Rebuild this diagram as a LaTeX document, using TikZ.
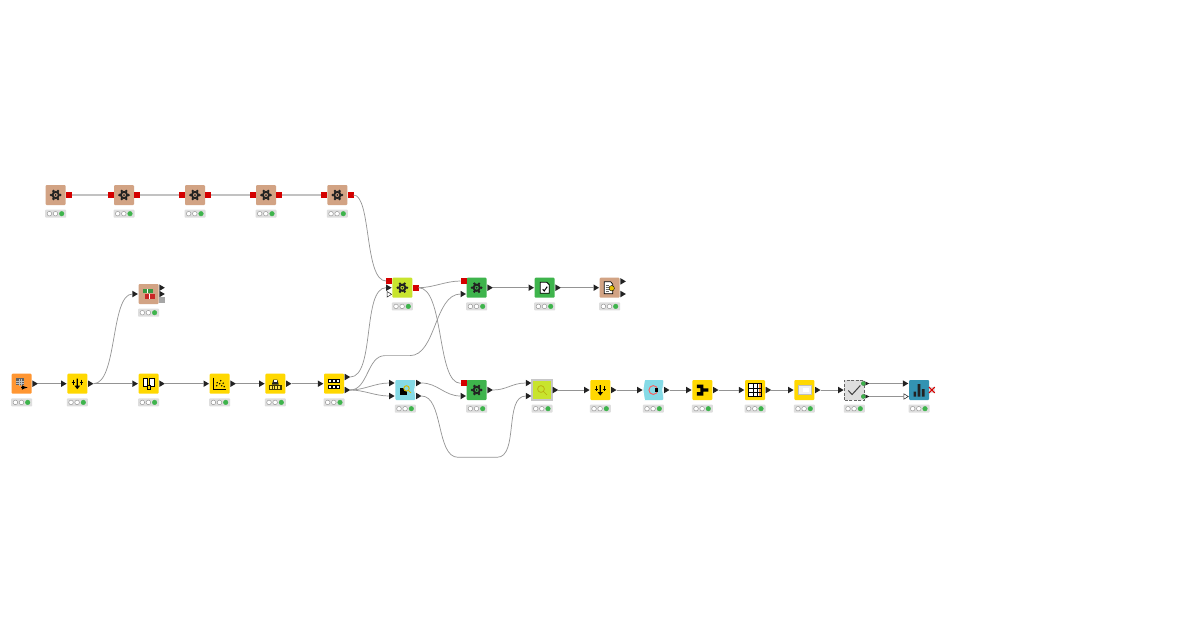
\documentclass[tikz,border=0pt]{standalone}
\usetikzlibrary{shapes.geometric}
\definecolor{mybrown}{HTML}{D2A384}
\definecolor{myyellow}{HTML}{FFD800}
\definecolor{myorange}{HTML}{FF9632}
\definecolor{mygreen}{HTML}{3EB44C}
\definecolor{mylime}{HTML}{C8E42E}
\definecolor{myblue}{HTML}{85DAE6}
\definecolor{myteal}{HTML}{3393B2}
\definecolor{myred}{HTML}{D40000}
\definecolor{myink}{HTML}{222222}
\begin{document}
\begin{tikzpicture}[%
        x=1pt, y=-1pt,
        mynode/.style={shape=rectangle, rounded corners=1pt, inner sep=0, outer sep=0, minimum size=20pt},
        mystatus/.style={shape=rectangle, rounded corners=.8pt, fill=black!13, inner sep=0, minimum width=21pt, minimum height=8pt},
        mylamp/.style={shape=circle, inner sep=0, minimum size=4.6pt, draw=black!45, line width=.4pt, fill=white},
        myport/.style={shape=isosceles triangle, isosceles triangle stretches, shape border rotate=0, inner sep=0, outer sep=0,
            minimum width=6.5pt, minimum height=5.5pt, fill=myink, anchor=apex},
        myopen/.style={myport, fill=white, draw=myink, line width=.5pt, minimum width=5.5pt, minimum height=4.5pt},
        mysquare/.style={shape=rectangle, inner sep=0, outer sep=0, minimum size=6pt, fill=myred},
        mywire/.style={draw=black!42, line width=.7pt},
        mymodel/.style={draw=black!24, line width=1.2pt},
        mygear/.pic={
            \draw [line width=1.9pt, myink] (0,0) circle (3.1);
            \foreach \a in {0,60,...,300}
                \fill [myink] (\a:4.6) circle (1.4);
            \fill [myink] (0,0) circle (1);
        },
        myfunnel/.pic={
            \fill [black] (-.6,-5) rectangle (.6,2) (-2.8,2) -- (2.8,2) -- (0,5.5) -- cycle;
            \foreach \s in {-4,4}
                \draw [black, line width=.7pt] (\s,-4) -- (\s,1) (\s-1.6,-1) -- (\s+1.6,-1);
        }
    ]
    \useasboundingbox [fill=white] (0,0) rectangle (1200,630);
    % nodes with their status bars
    \foreach \nm/\nx/\ny/\col in {%
            gearA/55.7/195/mybrown, gearB/124/195/mybrown, gearC/195/195/mybrown,
            gearD/266/195/mybrown, gearE/337.3/195/mybrown,
            reader/21.7/383.7/myorange, filterA/77.3/383.7/myyellow, joiner/148.6/383.7/myyellow,
            scatter/219.7/383.7/myyellow, binner/275.3/383.7/myyellow, partition/334/383.7/myyellow,
            grouper/148.6/294/mybrown, learner/402.3/287.7/mylime, predictA/476.7/287.7/mygreen,
            scorer/544.7/287.7/mygreen, docs/609.7/287.7/mybrown,
            blueA/405.3/390/myblue, predictB/476.7/390/mygreen, search/542/390/mylime,
            filterB/600.3/390/myyellow, blueB/653.3/390/myblue, pivot/702.3/390/myyellow,
            viewer/755/390/myyellow, card/804.3/390/myyellow, checker/854.3/390/black!13,
            chart/919/390/myteal} {
        \node [mynode, fill=\col] (\nm) at (\nx,\ny) {};
        \node [mystatus] (\nm bar) at (\nx,\ny+18.7) {};
        \node [mylamp] (\nm off) at (\nx-6.3,\ny+18.7) {};
        \node [mylamp] (\nm idle) at (\nx-.2,\ny+18.7) {};
        \node [mylamp, draw=mygreen, fill=mygreen] (\nm lamp) at (\nx+6,\ny+18.7) {};
    }
    % notched sides, frames
    \fill [white] (415.6,381) -- (414.2,390) -- (415.6,399) -- cycle;
    \fill [white] (643,379.7) -- (645,379.7) -- (643.2,390) -- (645,400.3) -- (643,400.3) -- cycle;
    \fill [white] (663.6,381) -- (662.2,390) -- (663.6,399) -- cycle;
    \draw [black!22, line width=1.3pt] (search.south west) rectangle (search.north east);
    \draw [black!60, line width=.8pt, dash pattern=on 3pt off 1.5pt] (checker.south west) rectangle (checker.north east);
    % triangle ports on the right
    \foreach \pn/\nm/\dy in {%
            readerO/reader/0, filterAO/filterA/0, joinerO/joiner/0, scatterO/scatter/0, binnerO/binner/0,
            partitionT/partition/6.7, partitionL/partition/-6.3, grouperT/grouper/6.3, grouperM/grouper/0,
            predictAO/predictA/0, scorerO/scorer/0, docsT/docs/6.3, docsL/docs/-6.3,
            blueAT/blueA/7, blueAL/blueA/-6, predictBO/predictB/0, searchO/search/0, filterBO/filterB/0,
            blueBO/blueB/0, pivotO/pivot/0, viewerO/viewer/0, cardO/card/0}
        \node [myport] (\pn) at ([xshift=6.2pt,yshift=\dy pt]\nm.east) {};
    \node [myport, minimum width=4pt, minimum height=4pt] (checkerT) at ([xshift=5pt,yshift=6.5pt]checker.east) {};
    \node [myport, minimum width=4pt, minimum height=4pt] (checkerL) at ([xshift=5pt,yshift=-6.5pt]checker.east) {};
    % triangle ports on the left
    \foreach \pn/\nm/\dy in {%
            filterAI/filterA/0, joinerI/joiner/0, scatterI/scatter/0, binnerI/binner/0, partitionI/partition/0,
            grouperI/grouper/0, learnerI/learner/0, predictAI/predictA/-6.3, scorerI/scorer/0, docsI/docs/0,
            blueAT2/blueA/7, blueAL2/blueA/-6, predictBI/predictB/-6, searchT/search/7, searchL/search/-6,
            filterBI/filterB/0, blueBI/blueB/0, pivotI/pivot/0, viewerI/viewer/0, cardI/card/0,
            checkerI/checker/0, chartI/chart/6.5}
        \node [myport] (\pn) at ([xshift=-.7pt,yshift=\dy pt]\nm.west) {};
    \node [myopen] (learnerV) at ([xshift=-.7pt,yshift=-6.6pt]learner.west) {};
    \node [myopen] (chartV) at ([xshift=-.7pt,yshift=-6.5pt]chart.west) {};
    % model ports
    \foreach \pn/\nm in {gearAO/gearA, gearBO/gearB, gearCO/gearC, gearDO/gearD, gearEO/gearE, learnerO/learner}
        \node [mysquare, anchor=west] (\pn) at ([xshift=.2pt]\nm.east) {};
    \foreach \pn/\nm/\dy in {gearBI/gearB/0, gearCI/gearC/0, gearDI/gearD/0, gearEI/gearE/0,
            learnerR/learner/6.7, predictAR/predictA/6.7, predictBR/predictB/6.7}
        \node [mysquare, anchor=east] (\pn) at ([xshift=-.2pt,yshift=\dy pt]\nm.west) {};
    \node [mysquare, anchor=west, fill=black!35] (grouperQ) at ([xshift=.4pt,yshift=-6.3pt]grouper.east) {};
    \node [mylamp, draw=mygreen!80!black, fill=mygreen, minimum size=4pt] (checkerG) at ([xshift=-1pt,yshift=6.5pt]checker.east) {};
    \node [mylamp, draw=mygreen!80!black, fill=mygreen, minimum size=4pt] (checkerH) at ([xshift=-1pt,yshift=-6.5pt]checker.east) {};
    % connectors
    \foreach \from/\to in {gearAO/gearBI, gearBO/gearCI, gearCO/gearDI, gearDO/gearEI}
        \draw [mymodel] (\from) -- (\to);
    \foreach \from/\to in {readerO/filterAI, filterAO/joinerI, joinerO/scatterI, scatterO/binnerI, binnerO/partitionI,
            predictAO/scorerI, scorerO/docsI, searchO/filterBI, filterBO/blueBI, blueBO/pivotI, pivotO/viewerI,
            viewerO/cardI, cardO/checkerI, checkerT/chartI, checkerL/chartV}
        \draw [mywire] (\from.apex) -- (\to.lower side);
    \coordinate (bendA) at (385,355.6);
    \coordinate (bendB) at (410,355.6);
    \coordinate (bendC) at (458,457.3);
    \coordinate (bendD) at (497,457.3);
    \draw [mywire] (gearEO.east) .. controls +(18,0) and +(-22,0) .. (learnerR.west);
    \draw [mywire] (filterAO.apex) .. controls +(24,0) and +(-22,0) .. (grouperI.lower side);
    \draw [mywire] (partitionT.apex) .. controls +(25,0) and +(-24,0) .. (learnerI.lower side);
    \draw [mywire] (partitionL.apex) .. controls +(18,0) and +(-18,0) .. (bendA) -- (bendB)
        .. controls +(26,0) and +(-26,0) .. (predictAI.lower side);
    \draw [mywire] (partitionL.apex) .. controls +(14,0) and +(-14,0) .. (blueAT2.lower side);
    \draw [mywire] (partitionL.apex) .. controls +(14,0) and +(-14,0) .. (blueAL2.lower side);
    \draw [mywire] (learnerO.east) .. controls +(15,0) and +(-15,0) .. (predictAR.west);
    \draw [mywire] (learnerO.east) .. controls +(26,0) and +(-24,0) .. (predictBR.west);
    \draw [mywire] (blueAT.apex) .. controls +(16,0) and +(-16,0) .. (predictBI.lower side);
    \draw [mywire] (blueAL.apex) .. controls +(22,0) and +(-22,0) .. (bendC) -- (bendD)
        .. controls +(22,0) and +(-22,0) .. (searchL.lower side);
    \draw [mywire] (predictBO.apex) .. controls +(14,0) and +(-14,0) .. (searchT.lower side);
    % icons
    \foreach \nm in {gearA,gearB,gearC,gearD,gearE,learner,predictA,predictB}
        \pic at (\nm) {mygear};
    \pic at (filterA) {myfunnel};
    \pic at (filterB) {myfunnel};
    % reader
    \fill [black!62] (reader) ++(-5.5,-5.5) rectangle ++(8,7);
    \draw [black!25, line width=.25pt] (reader) ++(-5.5,-3) -- ++(8,0) ++(-8,2) -- ++(8,0) ++(-5.5,-4) -- ++(0,7) ++(2.5,-7) -- ++(0,7);
    \draw [black, line width=1pt, -latex] (reader) ++(-.5,3.8) -- ++(6.5,0);
    % joiner
    \draw [black, fill=white, line width=.6pt] (joiner) ++(-5.5,-5.5) rectangle ++(4.5,8) (joiner) ++(1,-5.5) rectangle ++(4.5,8);
    \draw [black, fill=myyellow, line width=.6pt] (joiner) ++(-1.5,1.5) rectangle ++(3,4);
    % scatter
    \draw [black, line width=1pt] (scatter) ++(-6,-6) -- ++(0,12) -- ++(12,0);
    \foreach \dx/\dy in {-3/2, -2.5/-1, 0/0, 1/-3, 2/2, 3.5/-.5, 4.5/3}
        \fill [black] (scatter) ++(\dx,\dy) circle (.8);
    % binner
    \fill [black!75!myyellow] (binner) ++(-6.5,1) rectangle ++(13,5);
    \foreach \dx in {-5.6,-2.8,0,2.8}
        \fill [myyellow!70!white] (binner) ++(\dx,2.2) rectangle ++(1.9,3);
    \fill [black!85] (binner) ++(-3.5,1) -- ++(1.5,-5) -- ++(4,0) -- ++(1.5,5) -- cycle;
    \fill [white] (binner) ++(-1.2,-4) rectangle ++(2.4,2);
    % partition
    \foreach \dy in {-5,1.5} {
        \fill [black] (partition) ++(-6,\dy) rectangle ++(12,4);
        \foreach \dx in {-5.2,-1.3,2.6}
            \fill [white] (partition) ++(\dx,\dy+.8) rectangle ++(2.6,2.4);
    }
    % grouper
    \fill [mygreen!85!black] (grouper) ++(-6,-5.5) rectangle ++(10,4.2);
    \fill [red!75!black!85] (grouper) ++(-4,.2) rectangle ++(10,4.6);
    \draw [white, line width=.3pt] (grouper) ++(-1,-5.5) -- ++(0,4.2) (grouper) ++(1,.2) -- ++(0,4.6);
    % scorer
    \draw [black, fill=white, line width=.8pt] (scorer) ++(-4.5,-5.5) -- ++(6.5,0) -- ++(2.5,2.5) -- ++(0,8.5) -- ++(-9,0) -- cycle;
    \draw [black, line width=1pt] (scorer) ++(-2,1.5) -- ++(1.5,1.8) -- ++(3,-4.3);
    % docs
    \draw [black, fill=white, line width=.7pt] (docs) ++(-5.5,-6) -- ++(6.5,0) -- ++(2,2.5) -- ++(0,9.5) -- ++(-8.5,0) -- cycle;
    \foreach \dy in {-2.5,-.5,1.5,3.5}
        \draw [black!60, line width=.4pt] (docs) ++(-4,\dy) -- ++(3,0);
    \fill [myyellow!90!black, draw=black, line width=.4pt] (docs) ++(2,.5) circle (2.7);
    % column filter blue
    \fill [black] (blueA) ++(-5,-2) rectangle ++(7,7);
    \draw [myyellow!85!black, line width=.9pt, fill=myblue] (blueA) ++(1.2,-1.6) circle (2.7);
    \draw [myyellow!85!black, line width=.9pt] (blueA) ++(3.2,.4) -- ++(2.5,2.5);
    % search
    \draw [black!30!myyellow!70!mylime, line width=.7pt] (search) ++(-1,-1) circle (3.4) ++(2.4,2.4) -- ++(3.5,3.5);
    % loop
    \draw [red!65, line width=.9pt] (blueB) circle (4.4);
    \fill [black] (blueB) ++(1.3,-1.7) rectangle ++(3.4,3.4);
    % pivot
    \fill [black] (pivot) ++(-5.5,-5.5) rectangle ++(5,3.5) (pivot) ++(-5.5,2) rectangle ++(5,3.5)
        (pivot) ++(-2,-5.5) rectangle ++(3,11) (pivot) ++(1,-1.7) rectangle ++(5,3.4);
    % viewer
    \draw [black, line width=.6pt, fill=white] (viewer) ++(-6.5,-6.5) rectangle ++(13,13);
    \fill [myorange] (viewer) ++(3.9,-6.2) rectangle ++(2.3,12.4);
    \draw [black, line width=.6pt] (viewer) ++(-6.5,-2.2) -- ++(13,0) ++(-13,4.4) -- ++(13,0) ++(-8.7,-8.7) -- ++(0,13) ++(4.4,-13) -- ++(0,13) ++(4.4,-13) -- ++(0,13);
    % card
    \fill [black!6, draw=black!25, line width=.4pt] (card) ++(-6.5,-4.5) rectangle ++(13,9);
    \fill [white] (card) ++(-1,-2.5) rectangle ++(6,4);
    % check
    \draw [black!75, line width=1pt] (checker) ++(-6,.5) -- ++(3.8,4) -- ++(8.2,-9);
    % chart
    \fill [myink] (chart) ++(-5.5,1.5) rectangle ++(2.6,5) (chart) ++(-1.4,-6) rectangle ++(2.8,12.5) (chart) ++(2.9,-1) rectangle ++(2.6,7.5);
    % warning cross
    \node [shape=rectangle, inner sep=0, minimum size=5.5pt, fill=black!12] (chartX) at (931.8,390) {};
    \draw [red!85!black, line width=1pt] (chartX.north west) -- (chartX.south east) (chartX.north east) -- (chartX.south west);
\end{tikzpicture}
\end{document}
